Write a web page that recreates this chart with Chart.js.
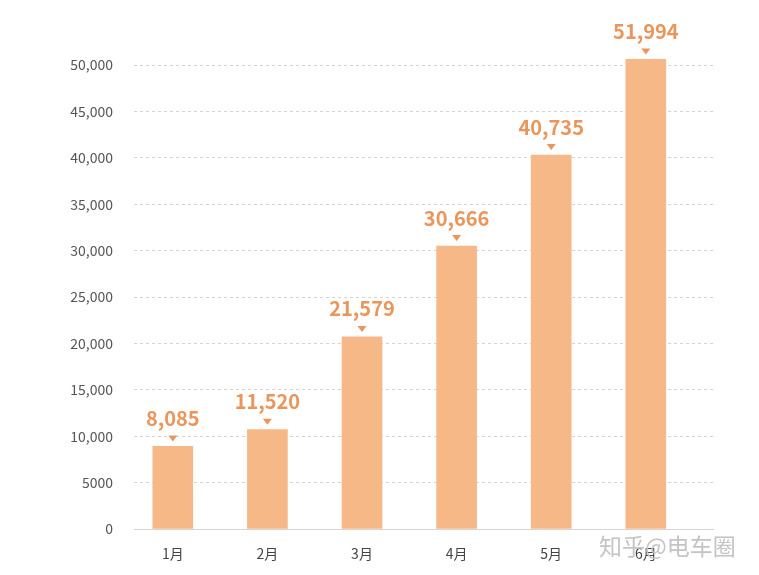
<!DOCTYPE html>
<html>
<head>
<meta charset="utf-8">
<script src="https://cdn.jsdelivr.net/npm/chart.js@4/dist/chart.umd.min.js"></script>
<style>
html,body{margin:0;padding:0;background:#fff;}
canvas{display:block;}
</style>
</head>
<body>
<canvas id="salesChart" width="759" height="575"></canvas>
<script>
// data
const months = ["1月", "2月", "3月", "4月", "5月", "6月"];
const barValues = [8900, 10700, 20700, 30500, 40300, 50600];   // bar heights as drawn
const shownValues = [8085, 11520, 21579, 30666, 40735, 51994]; // numbers printed above the bars
const yTicks = [0, 5000, 10000, 15000, 20000, 25000, 30000, 35000, 40000, 45000, 50000];

const barColor = "#f6b887";
const labelColor = "#ea955b";
const font = "'Noto Sans CJK SC', 'Noto Sans', sans-serif";

// value labels with a small triangle above each bar
const valueLabels = {
    id: "valueLabels",
    afterDatasetsDraw(chart) {
        const ctx = chart.ctx;
        const meta = chart.getDatasetMeta(0);
        ctx.save();
        ctx.fillStyle = labelColor;
        ctx.font = "bold 20px " + font;
        ctx.textAlign = "center";
        ctx.textBaseline = "middle";
        meta.data.forEach((bar, i) => {
            const x = bar.x, top = bar.y;
            ctx.fillText(shownValues[i].toLocaleString("en-US"), x, top - 28);
            ctx.beginPath();
            ctx.moveTo(x - 4.5, top - 11);
            ctx.lineTo(x + 4.5, top - 11);
            ctx.lineTo(x, top - 5);
            ctx.closePath();
            ctx.fill();
        });
        // watermark
        ctx.fillStyle = "#c4c4c4";
        ctx.font = "23px " + font;
        ctx.textAlign = "left";
        ctx.fillText("知乎@电车圈", 599, 546);
        ctx.restore();
    }
};

const salesChart = document.getElementById("salesChart");
new Chart(salesChart, {
    type: "bar",
    data: {
        datasets: [{
            data: barValues.map((v, i) => ({ x: i, y: v })),
            backgroundColor: barColor,
            barThickness: 40,
            clip: false
        }]
    },
    options: {
        responsive: false,
        animation: false,
        layout: { padding: { left: 0, right: 46, top: 65, bottom: 0 } },
        plugins: { legend: { display: false }, tooltip: { enabled: false } },
        scales: {
            x: {
                type: "linear",
                offset: false,
                min: -0.41,
                max: 5.71,
                afterBuildTicks(scale) {
                    scale.ticks = months.map((m, i) => ({ value: i }));
                },
                afterFit(scale) { scale.height = 46; },
                grid: { display: false },
                border: { display: true, color: "#d6d6d6", width: 1 },
                ticks: {
                    padding: 8,
                    color: "#444",
                    font: { size: 14, family: font },
                    maxRotation: 0,
                    callback: (v) => months[v] || ""
                }
            },
            y: {
                min: 0,
                max: 50000,
                afterBuildTicks(scale) {
                    scale.ticks = yTicks.map(v => ({ value: v }));
                },
                afterFit(scale) { scale.width = 134; },
                grid: {
                    drawTicks: false,
                    color: (c) => c.tick && c.tick.value === 0 ? "rgba(0,0,0,0)" : "#d4d4d4",
                    lineWidth: 1
                },
                border: { display: false, dash: [3, 3] },
                ticks: {
                    padding: 21,
                    color: "#555",
                    font: { size: 14, family: font },
                    callback: (v) => v >= 10000 ? v.toLocaleString("en-US") : String(v)
                }
            }
        }
    },
    plugins: [valueLabels]
});
</script>
</body>
</html>
